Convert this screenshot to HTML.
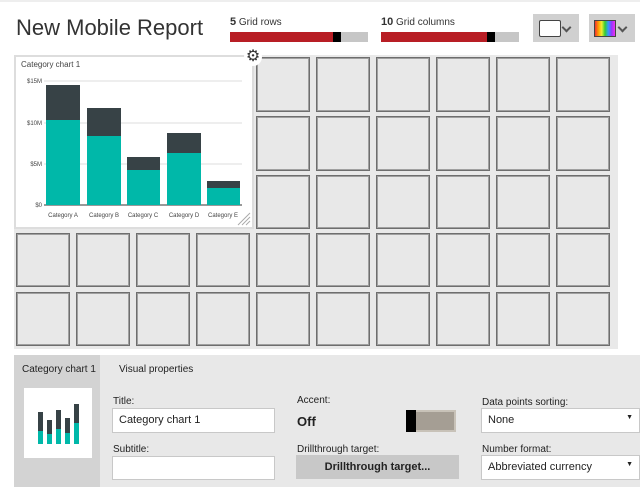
<!DOCTYPE html>
<html><head><style>
body{margin:0;width:640px;height:487px;overflow:hidden;background:#fff;font-family:"Liberation Sans",sans-serif;position:relative}
.a{position:absolute}
.cell{position:absolute;width:54px;height:52px;background:#e8e8e8;border:1px solid #6e6e6e;box-shadow:inset 0 0 0 1px #a0a0a0;box-sizing:border-box}
.lbl{font-size:10px;color:#222}
.inp{position:absolute;background:#fff;border:1px solid #c8c8c8;box-sizing:border-box;font-size:11px;color:#222;padding:5px 6px}
</style></head><body>
<div class="a" style="left:0;top:0;width:640px;height:2px;background:#eee"></div>
<div class="a" style="left:16px;top:15px;font-size:22px;color:#333;font-weight:300">New Mobile Report</div>
<div class="a" style="left:230px;top:16px;font-size:10px;color:#333"><b style="font-size:11px">5</b> Grid rows</div>
<div class="a" style="left:230px;top:32px;width:138px;height:10px;background:#c6c6c6"></div>
<div class="a" style="left:230px;top:32px;width:104px;height:10px;background:#b81e25"></div>
<div class="a" style="left:333px;top:32px;width:8px;height:10px;background:#000"></div>
<div class="a" style="left:381px;top:16px;font-size:10px;color:#333"><b style="font-size:11px">10</b> Grid columns</div>
<div class="a" style="left:381px;top:32px;width:138px;height:10px;background:#c6c6c6"></div>
<div class="a" style="left:381px;top:32px;width:107px;height:10px;background:#b81e25"></div>
<div class="a" style="left:487px;top:32px;width:8px;height:10px;background:#000"></div>
<div class="a" style="left:533px;top:14px;width:46px;height:28px;background:#d0d0d0"></div>
<div class="a" style="left:539px;top:20px;width:20px;height:15px;background:#fff;border:1px solid #444;border-radius:2px"></div>
<div class="a" style="left:563px;top:24px;width:5px;height:5px;border-right:2px solid #555;border-bottom:2px solid #555;transform:rotate(45deg)"></div>
<div class="a" style="left:589px;top:14px;width:46px;height:28px;background:#d0d0d0"></div>
<div class="a" style="left:594px;top:20px;width:20px;height:15px;border:1px solid #444;background:linear-gradient(90deg,#e33,#f90,#ee3,#3c3,#39f,#93f,#e3e)"></div>
<div class="a" style="left:619px;top:24px;width:5px;height:5px;border-right:2px solid #555;border-bottom:2px solid #555;transform:rotate(45deg)"></div>
<div class="a" style="left:14px;top:55px;width:604px;height:294px;background:#e9e9e9"></div>
<div id="g"></div>
<div class="a" style="left:14px;top:55px;width:240px;height:174px;background:#fff;border:2px solid #ddd;box-sizing:border-box"></div>
<div class="a" style="left:21px;top:60px;font-size:8px;color:#444">Category chart 1</div>
<div class="a" style="left:244px;top:48px;width:18px;height:18px;border-radius:9px;background:#fff;font-size:16px;line-height:18px;text-align:center;color:#333">&#9881;</div>
<svg class="a" style="left:14px;top:55px" width="240" height="174">
<g stroke="#ddd" stroke-width="1"><line x1="30" x2="228" y1="26" y2="26"/><line x1="30" x2="228" y1="68" y2="68"/><line x1="30" x2="228" y1="109" y2="109"/></g>
<line x1="30" x2="228" y1="150" y2="150" stroke="#999" stroke-width="2"/>
<g font-size="6" fill="#444" text-anchor="end"><text x="28" y="28">$15M</text><text x="28" y="70">$10M</text><text x="28" y="111">$5M</text><text x="28" y="152">$0</text></g>
<g fill="#374246"><rect x="32" y="30" width="34" height="120"/><rect x="73" y="53" width="34" height="97"/><rect x="113" y="102" width="33" height="48"/><rect x="153" y="78" width="34" height="72"/><rect x="193" y="126" width="33" height="24"/></g>
<g fill="#00b8a9"><rect x="32" y="65" width="34" height="85"/><rect x="73" y="81" width="34" height="69"/><rect x="113" y="115" width="33" height="35"/><rect x="153" y="98" width="34" height="52"/><rect x="193" y="133" width="33" height="17"/></g>
<g font-size="6" fill="#444" text-anchor="middle"><text x="49" y="162">Category A</text><text x="90" y="162">Category B</text><text x="129" y="162">Category C</text><text x="170" y="162">Category D</text><text x="209" y="162">Category E</text></g>
<g stroke="#aaa"><line x1="224" y1="170" x2="236" y2="158"/><line x1="228" y1="170" x2="236" y2="162"/><line x1="232" y1="170" x2="236" y2="166"/></g>
</svg>
<div class="a" style="left:14px;top:355px;width:626px;height:132px;background:#e8e8e8"></div>
<div class="a" style="left:14px;top:355px;width:86px;height:132px;background:#d3d3d3"></div>
<div class="a lbl" style="left:22px;top:364px">Category chart 1</div>
<div class="a lbl" style="left:119px;top:364px">Visual properties</div>
<svg class="a" style="left:24px;top:388px" width="68" height="70"><rect width="68" height="70" fill="#fff"/>
<g fill="#374246"><rect x="14" y="24" width="5" height="32"/><rect x="23" y="32" width="5" height="24"/><rect x="32" y="22" width="5" height="34"/><rect x="41" y="30" width="5" height="26"/><rect x="50" y="16" width="5" height="40"/></g>
<g fill="#00b8a9"><rect x="14" y="43" width="5" height="13"/><rect x="23" y="46" width="5" height="10"/><rect x="32" y="41" width="5" height="15"/><rect x="41" y="45" width="5" height="11"/><rect x="50" y="35" width="5" height="21"/></g></svg>
<div class="a lbl" style="left:113px;top:396px">Title:</div>
<div class="inp" style="left:112px;top:408px;width:163px;height:25px">Category chart 1</div>
<div class="a lbl" style="left:113px;top:444px">Subtitle:</div>
<div class="inp" style="left:112px;top:456px;width:163px;height:24px"></div>
<div class="a lbl" style="left:297px;top:395px">Accent:</div>
<div class="a" style="left:297px;top:414px;font-size:13px;font-weight:bold;color:#222">Off</div>
<div class="a" style="left:406px;top:410px;width:50px;height:22px;background:#a59e94;border:2px solid #c8c2b8;box-sizing:border-box"></div>
<div class="a" style="left:406px;top:410px;width:10px;height:22px;background:#000"></div>
<div class="a lbl" style="left:297px;top:444px">Drillthrough target:</div>
<div class="a" style="left:296px;top:455px;width:163px;height:24px;background:#c8c8c8;font-size:11px;font-weight:bold;text-align:center;line-height:24px;color:#222">Drillthrough target...</div>
<div class="a lbl" style="left:482px;top:397px">Data points sorting:</div>
<div class="inp" style="left:481px;top:408px;width:159px;height:25px">None<span style="position:absolute;right:6px;font-size:7px">&#9660;</span></div>
<div class="a lbl" style="left:482px;top:444px">Number format:</div>
<div class="inp" style="left:481px;top:455px;width:159px;height:25px">Abbreviated currency<span style="position:absolute;right:6px;font-size:7px">&#9660;</span></div>
<script>
var g=document.getElementById('g'),h='',rows=[57,116,175,233,292];
for(var r=0;r<5;r++)for(var c=0;c<10;c++){h+='<div class="cell" style="left:'+(16+c*60)+'px;top:'+rows[r]+'px;height:'+(r<2?55:54)+'px"></div>';}
g.innerHTML=h;
</script>
</body></html>
